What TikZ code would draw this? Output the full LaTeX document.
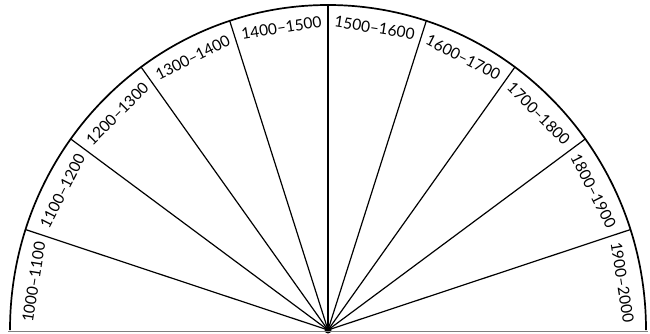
\documentclass[tikz,border=0pt]{standalone}
\usepackage{fontspec}
\setsansfont{Lato}
\usetikzlibrary{calc}

\begin{document}
\begin{tikzpicture}[x=1pt, y=1pt]
    % Define styles
    \tikzstyle{spoke} = [line width=1.2pt]
    \tikzstyle{rim} = [line width=1.7pt]
    \tikzstyle{era label} = [font=\sffamily\fontsize{15.5}{15.5}\selectfont, inner sep=0pt]

    \useasboundingbox (0,0) rectangle (650,333);
    \fill[white] (0,0) rectangle (650,333);

    % Hub
    \node[circle, fill, inner sep=0pt, minimum size=7pt] (hub) at (328,3) {};

    % Base line
    \coordinate (base west) at (8,1.5);
    \coordinate (base east) at (648,1.5);
    \draw[gray, line width=1.2pt] (base west) -- (base east);

    % Rim
    \draw[rim] ($(hub.center)+(318,0)$) arc[start angle=0, end angle=180, x radius=318, y radius=325];

    % Spokes
    \foreach \k in {1,...,9} {
        \coordinate (rim\k) at ($(hub.center)+({318*cos(18*\k)},{325*sin(18*\k)})$);
        \draw[spoke] (hub.center) -- (rim\k);
    }

    % Labels
    \foreach \i [evaluate=\i as \a using 171-18*\i,
                 evaluate=\i as \from using int(1000+100*\i),
                 evaluate=\i as \to using int(1100+100*\i)] in {0,...,9} {
        \node[era label, rotate=\a-90] (era\i) at ($(hub.center)+({298*cos(\a)},{306*sin(\a)})$) {\from--\to};
    }
\end{tikzpicture}
\end{document}
